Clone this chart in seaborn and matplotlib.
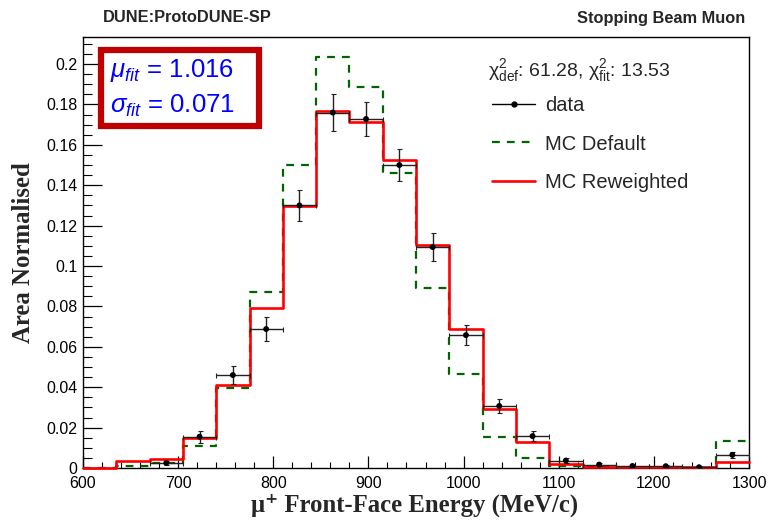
import numpy as np
import pandas as pd
import matplotlib
matplotlib.use("Agg")
import matplotlib.pyplot as plt
from matplotlib.lines import Line2D
from matplotlib.patches import Rectangle
from matplotlib.ticker import MultipleLocator, FuncFormatter
import seaborn as sns

# ---------------- data ----------------
bin_edges = [600, 635, 670, 705, 740, 775, 810, 845, 880, 915, 950,
             985, 1020, 1055, 1090, 1125, 1160, 1195, 1230, 1265, 1300]
mc_default = [0.0, 0.0012, 0.0025, 0.011, 0.0395, 0.087, 0.150, 0.2036, 0.1885, 0.1462,
              0.089, 0.0465, 0.0155, 0.005, 0.001, 0.0003, 0.0002, 0.0002, 0.0002, 0.0135]
mc_reweighted = [0.0, 0.0035, 0.0045, 0.015, 0.041, 0.079, 0.1299, 0.1767, 0.1714, 0.1525,
                 0.1104, 0.069, 0.029, 0.013, 0.0022, 0.0006, 0.0004, 0.0004, 0.0003, 0.003]
data_x = [687.5, 722.5, 757.5, 792.5, 827.5, 862.5, 897.5, 932.5, 967.5, 1002.5,
          1037.5, 1072.5, 1107.5, 1142.5, 1177.5, 1212.5, 1247.5, 1282.5]
data_y = [0.0025, 0.0155, 0.046, 0.0688, 0.130, 0.176, 0.1728, 0.150, 0.1094, 0.0658,
          0.0307, 0.0158, 0.0037, 0.0017, 0.0010, 0.0009, 0.0004, 0.0065]
data_err = [0.001, 0.003, 0.0045, 0.0058, 0.0077, 0.009, 0.0085, 0.008, 0.007, 0.005,
            0.0033, 0.0025, 0.0012, 0.0008, 0.0006, 0.0005, 0.0004, 0.0015]
half_width = 17.5

mu_fit = "1.016"
sigma_fit = "0.071"
chi2_def = "61.28"
chi2_fit = "13.53"

# ---------------- style ----------------
sns.set_style("ticks")
plt.rcParams["font.family"] = ["Liberation Sans", "DejaVu Sans"]
plt.rcParams["mathtext.fontset"] = "custom"
plt.rcParams["mathtext.rm"] = "Liberation Sans"
plt.rcParams["mathtext.it"] = "Liberation Sans:italic"
plt.rcParams["mathtext.bf"] = "Liberation Sans:bold"

fig = plt.figure(figsize=(7.69, 5.2), dpi=100)
W, H = 769, 520
x0, x1, ytop, ybot = 83, 749, 37, 468
ax = fig.add_axes([x0 / W, 1 - ybot / H, (x1 - x0) / W, (ybot - ytop) / H])

centers = [(a + b) / 2 for a, b in zip(bin_edges[:-1], bin_edges[1:])]
df = pd.DataFrame({"E": centers, "default": mc_default, "rw": mc_reweighted})

sns.histplot(data=df, x="E", weights="default", bins=bin_edges, element="step",
             fill=False, color="#006400", linewidth=1.6, linestyle=(0, (3.5, 3.2)), ax=ax)
sns.histplot(data=df, x="E", weights="rw", bins=bin_edges, element="step",
             fill=False, color="#ff0000", linewidth=1.9, ax=ax, clip_on=False, zorder=3)

ax.errorbar(data_x, data_y, xerr=half_width, yerr=data_err, fmt="none",
            ecolor="#222222", elinewidth=1.0, capsize=1.8, capthick=0.8, zorder=4)
sns.scatterplot(x=data_x, y=data_y, color="black", s=18, edgecolor="none", ax=ax, zorder=5)

ax.set_xlim(600, 1300)
ax.set_ylim(0, 0.2134)

ax.xaxis.set_major_locator(MultipleLocator(100))
ax.xaxis.set_minor_locator(MultipleLocator(20))
ax.yaxis.set_major_locator(MultipleLocator(0.02))
ax.yaxis.set_minor_locator(MultipleLocator(0.005))
ax.yaxis.set_major_formatter(FuncFormatter(lambda v, p: f"{round(v, 4):g}"))

ax.tick_params(axis="both", which="both", direction="in", labelsize=11.5, colors="black")
ax.tick_params(axis="x", which="major", length=8.5, width=0.9, pad=6)
ax.tick_params(axis="x", which="minor", length=4.2, width=0.8)
ax.tick_params(axis="y", which="major", length=14, width=0.9, pad=4)
ax.tick_params(axis="y", which="minor", length=6.5, width=0.8)
for s in ax.spines.values():
    s.set_visible(True)
    s.set_linewidth(1.0)
    s.set_color("black")

ax.set_ylabel("Area Normalised", family=["Liberation Serif", "DejaVu Serif"],
              fontweight="bold", fontsize=17.8, va="center")
ax.yaxis.set_label_coords(-0.0886, 0.5)
ax.set_xlabel("μ⁺ Front-Face Energy (MeV/c)", family=["Liberation Serif", "DejaVu Serif"],
              fontweight="bold", fontsize=17.8, va="center")
ax.xaxis.set_label_coords(0.4985, -0.086)

# header texts
fig.text(103 / W, 1 - 18 / H, "DUNE:ProtoDUNE-SP", fontsize=11.8, fontweight="bold",
         ha="left", va="center")
fig.text(745 / W, 1 - 18 / H, "Stopping Beam Muon", fontsize=11.8, fontweight="bold",
         ha="right", va="center")

# fit result box
bx0, bx1, by0, by1 = 101, 259, 50, 126
fig.patches.append(Rectangle((bx0 / W, 1 - by1 / H), (bx1 - bx0) / W, (by1 - by0) / H,
                             transform=fig.transFigure, fill=True, facecolor="white",
                             edgecolor="#c00000", linewidth=4.5, zorder=10))
fig.text(110 / W, 1 - 70 / H, r"$\mu_{fit}$ = " + mu_fit, fontsize=18.5, color="#0000ff",
         ha="left", va="center", zorder=11)
fig.text(110 / W, 1 - 106 / H, r"$\sigma_{fit}$ = " + sigma_fit, fontsize=18.5, color="#0000ff",
         ha="left", va="center", zorder=11)

# chi2 header
fig.text(488 / W, 1 - 71 / H,
         r"χ$^{2}_{\mathrm{def}}$: " + chi2_def + r", χ$^{2}_{\mathrm{fit}}$: " + chi2_fit,
         fontsize=14, ha="left", va="center")

handles = [Line2D([], [], color="black", lw=1.0, marker="o", ms=3.5),
           Line2D([], [], color="#006400", lw=1.6, linestyle=(0, (3.5, 3.2))),
           Line2D([], [], color="#ff0000", lw=1.9)]
labels = ["data", "MC Default", "MC Reweighted"]
ax.legend(handles, labels, loc="upper left",
          bbox_to_anchor=((492 - x0) / (x1 - x0), (ybot - 96) / (ybot - ytop)),
          frameon=False, fontsize=14.5, handlelength=2.15, handletextpad=0.5,
          labelspacing=0.97, borderpad=0, borderaxespad=0)

fig.savefig("out.png", dpi=100)
